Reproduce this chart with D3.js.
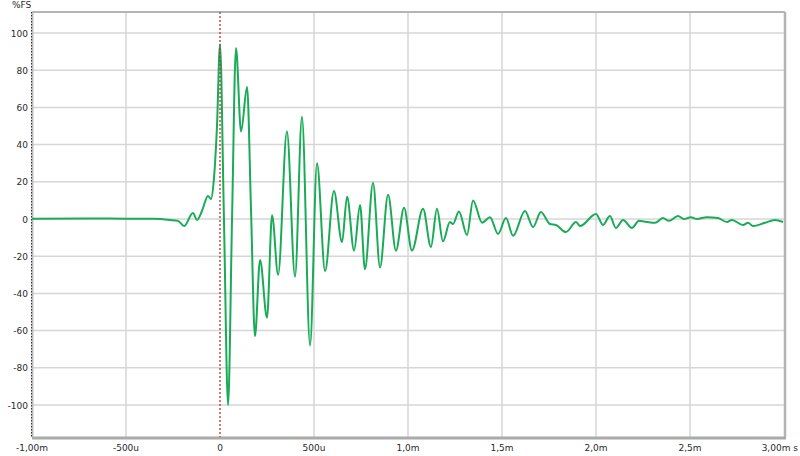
<!DOCTYPE html>
<html><head><meta charset="utf-8">
<script src="https://cdn.jsdelivr.net/npm/d3@7"></script>
<style>body{margin:0;background:#fff;}svg{display:block;}text{font-family:"DejaVu Sans",sans-serif;font-size:9px;fill:#2a2a2a;}</style>
</head><body><svg id="c" width="800" height="456"></svg>
<script>
// time in ms
const times = [-1.0,-0.7,-0.5,-0.35,-0.266,-0.223,-0.191,-0.144,-0.122,-0.096,-0.064,-0.048,-0.032,-0.016,0.0,0.021,0.043,0.064,0.085,0.112,0.144,0.165,0.186,0.213,0.250,0.277,0.309,0.356,0.399,0.436,0.479,0.516,0.559,0.606,0.649,0.676,0.713,0.745,0.771,0.814,0.851,0.894,0.936,0.979,1.021,1.080,1.122,1.154,1.186,1.223,1.239,1.271,1.314,1.346,1.394,1.436,1.479,1.521,1.559,1.622,1.665,1.707,1.755,1.787,1.840,1.894,1.915,2.000,2.037,2.074,2.106,2.144,2.191,2.229,2.271,2.314,2.356,2.388,2.436,2.468,2.505,2.537,2.590,2.649,2.697,2.723,2.782,2.809,2.835,2.899,2.952,2.995];
// %FS
const values = [0.2,0.3,0.2,0.1,-0.5,-1,-3.8,3.2,-0.5,4.3,12.4,10.8,22,50,94,0,-100,0,92,47,71,5,-63,-22,-53,2,-30,47,-31,55,-68,30,-28,15,-12.4,12,-17,7.5,-27,19.5,-26,13,-17,6,-17,5.5,-15,5.5,-12,-1.6,-2.7,4,-8.6,10,-2,1,-8,0.5,-9,4.3,-4.3,3.8,-2.7,-3.2,-7,-1.6,-3.8,2.7,-3.2,1.6,-4.8,-0.5,-4.8,-1,-1.6,-2,0.5,-1,1.6,0,1,0,1,0.5,-1.6,-0.5,-3.2,-2,-3.8,-2,-0.5,-1.6];
const yTicks = [100,80,60,40,20,0,-20,-40,-60,-80,-100];
const xTicks = [-1,-0.5,0,0.5,1,1.5,2,2.5,3];
const xTickLabels = ["-1,00m","-500u","0","500u","1,0m","1,5m","2,0m","2,5m","3,00m s"];

const svg = d3.select("#c");
const L=32,R=784,T=12,B=437;
const x = d3.scaleLinear().domain([-1,3]).range([L,R]);
const y = d3.scaleLinear().domain([-117.2,111.3]).range([B,T]);

// grid
svg.append("g").selectAll("line").data(yTicks).join("line")
  .attr("x1",L).attr("x2",R).attr("y1",d=>y(d)).attr("y2",d=>y(d))
  .attr("stroke","#d6d6d6").attr("stroke-width",1.5);
svg.append("g").selectAll("line").data(xTicks.filter(d=>d!==-1&&d!==0&&d!==3)).join("line")
  .attr("x1",d=>x(d)).attr("x2",d=>x(d)).attr("y1",T).attr("y2",B)
  .attr("stroke","#d6d6d6").attr("stroke-width",1.5);

// frame
svg.append("line").attr("x1",L).attr("x2",R+1).attr("y1",T).attr("y2",T).attr("stroke","#b4b4b4").attr("stroke-width",2);
svg.append("line").attr("x1",R+1).attr("x2",R+1).attr("y1",T).attr("y2",B).attr("stroke","#b4b4b4").attr("stroke-width",2.5);
svg.append("line").attr("x1",L).attr("x2",R+2).attr("y1",B+1).attr("y2",B+1).attr("stroke","#aaaaaa").attr("stroke-width",3);
svg.append("line").attr("x1",L+0.5).attr("x2",L+0.5).attr("y1",T).attr("y2",B).attr("stroke","#bbbbbb").attr("stroke-width",2);
svg.append("line").attr("x1",L-0.5).attr("x2",L-0.5).attr("y1",T).attr("y2",B+1).attr("stroke","#333").attr("stroke-width",1).attr("stroke-dasharray","1.5,1.5");

// axis labels
svg.append("g").selectAll("text").data(yTicks).join("text")
  .attr("x",28).attr("y",d=>y(d)+3.5).attr("text-anchor","end").text(d=>d);
svg.append("g").selectAll("text").data(xTicks).join("text")
  .attr("x",(d,i)=>i===xTicks.length-1?798:x(d)).attr("y",451)
  .attr("text-anchor",(d,i)=>i===xTicks.length-1?"end":"middle").text((d,i)=>xTickLabels[i]);
svg.append("text").attr("x",12).attr("y",8).text("%FS");

// waveform
const line = d3.line().x((d,i)=>x(times[i])).y(d=>y(d)).curve(d3.curveMonotoneX);
svg.append("path").datum(values).attr("d",line).attr("fill","none")
  .attr("stroke","#19ab57").attr("stroke-width",2).attr("stroke-linejoin","round");

// zero marker
svg.append("line").attr("x1",x(0)).attr("x2",x(0)).attr("y1",T).attr("y2",B)
  .attr("stroke","#c0302a").attr("stroke-width",1.3).attr("stroke-dasharray","2,2");
</script></body></html>
